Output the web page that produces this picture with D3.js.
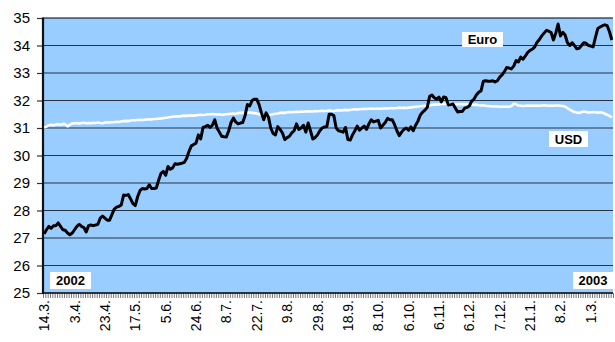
<!DOCTYPE html>
<html><head><meta charset="utf-8">
<script src="https://cdn.jsdelivr.net/npm/d3@7"></script>
<style>body{margin:0;background:#fff}svg{display:block}</style>
</head><body><svg id="c" width="615" height="342"></svg>
<script>
const tickLabels = ["14.3.","3.4.","23.4.","17.5.","5.6.","24.6.","8.7.","22.7.","9.8.","29.8.","18.9.","8.10.","6.10.","6.11.","6.12.","7.12.","21.1.","8.2.","1.3."];
const labelStep = 13;
const yTicks = [25,26,27,28,29,30,31,32,33,34,35];
const euro = [
27.15,27.3,27.42,27.35,27.45,27.45,27.55,27.42,27.3,27.28,
27.18,27.12,27.18,27.3,27.42,27.5,27.42,27.38,27.22,27.45,
27.47,27.45,27.47,27.5,27.72,27.8,27.72,27.65,27.65,27.85,
28.05,28.12,28.15,28.2,28.56,28.55,28.58,28.42,28.25,28.18,
28.5,28.72,28.8,28.78,28.8,28.93,28.8,28.8,28.82,29.1,
29.35,29.42,29.28,29.6,29.5,29.55,29.7,29.68,29.7,29.72,
29.75,29.9,30.15,30.35,30.4,30.45,30.75,30.6,31.02,31.05,
31.1,31.02,31.1,31.3,31.0,30.85,30.7,30.68,30.67,30.9,
31.2,31.36,31.22,31.15,31.18,31.2,31.45,31.85,31.8,32.0,
32.05,32.05,31.85,31.55,31.3,31.55,31.4,31.0,30.8,30.75,
31.05,30.95,30.82,30.58,30.65,30.7,30.82,30.9,31.15,30.95,
31.0,31.1,30.85,31.18,30.9,30.6,30.65,30.75,30.9,31.0,
31.04,31.05,31.5,31.5,31.45,31.0,30.9,30.88,30.85,31.02,
30.58,30.56,30.75,30.9,31.07,30.92,31.0,31.07,30.95,31.15,
31.3,31.22,31.25,31.28,31.0,31.1,31.2,31.35,31.3,31.3,
31.12,30.9,30.72,30.85,30.95,31.0,30.92,31.04,30.9,31.1,
31.25,31.47,31.58,31.65,31.75,32.15,32.2,32.1,32.05,32.12,
31.95,32.13,32.1,31.84,31.85,31.87,31.73,31.58,31.6,31.6,
31.72,31.75,31.8,31.98,32.05,32.2,32.3,32.35,32.7,32.72,
32.7,32.7,32.72,32.67,32.72,32.85,32.93,33.05,33.2,33.18,
33.15,33.25,33.45,33.4,33.58,33.5,33.62,33.75,33.82,33.87,
33.95,34.12,34.22,34.35,34.45,34.55,34.52,34.47,34.2,34.45,
34.78,34.35,34.48,34.38,34.1,34.0,34.1,34.0,33.88,33.9,
34.0,34.1,34.08,34.0,33.98,33.95,34.3,34.62,34.67,34.72,
34.75,34.72,34.5,34.2];
const usd = [
31.02,31.05,31.1,31.12,31.1,31.13,31.14,31.12,31.15,31.14,
31.06,31.12,31.17,31.17,31.18,31.16,31.18,31.19,31.17,31.18,
31.17,31.19,31.18,31.2,31.18,31.17,31.2,31.21,31.2,31.22,
31.21,31.23,31.22,31.24,31.25,31.26,31.25,31.27,31.28,31.28,
31.29,31.3,31.29,31.3,31.31,31.32,31.31,31.33,31.33,31.34,
31.35,31.36,31.37,31.38,31.4,31.41,31.42,31.43,31.42,31.44,
31.45,31.44,31.45,31.46,31.45,31.46,31.47,31.48,31.47,31.48,
31.5,31.5,31.51,31.5,31.49,31.5,31.48,31.49,31.5,31.51,
31.52,31.53,31.52,31.54,31.55,31.56,31.55,31.57,31.56,31.55,
31.54,31.53,31.5,31.47,31.45,31.42,31.44,31.48,31.5,31.52,
31.53,31.55,31.56,31.55,31.57,31.58,31.57,31.58,31.59,31.58,
31.6,31.59,31.6,31.61,31.6,31.6,31.62,31.61,31.62,31.63,
31.62,31.63,31.64,31.63,31.62,31.64,31.65,31.64,31.65,31.66,
31.65,31.66,31.67,31.68,31.67,31.68,31.69,31.7,31.69,31.7,
31.71,31.7,31.7,31.71,31.7,31.71,31.72,31.71,31.72,31.73,
31.72,31.73,31.74,31.73,31.74,31.73,31.74,31.75,31.76,31.77,
31.78,31.79,31.8,31.81,31.82,31.83,31.84,31.85,31.86,31.86,
31.87,31.88,31.87,31.88,31.87,31.86,31.87,31.86,31.87,31.86,
31.87,31.86,31.85,31.86,31.84,31.85,31.83,31.82,31.83,31.81,
31.8,31.79,31.78,31.79,31.78,31.77,31.78,31.77,31.78,31.77,
31.8,31.88,31.86,31.82,31.81,31.8,31.81,31.82,31.81,31.82,
31.81,31.82,31.81,31.82,31.83,31.82,31.81,31.82,31.81,31.82,
31.82,31.81,31.8,31.78,31.72,31.67,31.62,31.58,31.56,31.55,
31.57,31.6,31.58,31.56,31.57,31.58,31.57,31.56,31.57,31.56,
31.52,31.48,31.44,31.38];
const seriesNames = ["Euro","USD"];
const yearLabels = ["2002","2003"];

const L=43,R=613,T=18,B=293;
const N = euro.length;
const svg = d3.select("#c");
const font = "'Liberation Sans', Arial, sans-serif";
const x = d3.scaleBand().domain(d3.range(N)).range([L,R]).paddingInner(0).paddingOuter(0);
const xEdge = d3.scaleLinear().domain([0,N]).range([L,R]);
const y = d3.scaleLinear().domain([25,35]).range([B,T]);
const cx = i => x(i)+x.bandwidth()/2;

svg.append("rect").attr("x",L).attr("y",T).attr("width",R-L).attr("height",B-T).attr("fill","#99ccff");

// gridlines
svg.append("g").selectAll("line").data(yTicks.slice(1)).join("line")
  .attr("x1",L).attr("x2",R).attr("y1",d=>y(d)).attr("y2",d=>y(d))
  .attr("stroke",d=>d===35?"#000":"#2a3440").attr("stroke-width",1.2);

// y axis
const ya = svg.append("g").attr("transform",`translate(${L},0)`)
  .call(d3.axisLeft(y).tickValues(yTicks).tickSize(6).tickPadding(7).tickFormat(d3.format("d")));
ya.select(".domain").remove();
ya.selectAll("line").attr("stroke","#333").attr("stroke-width",1.2);
ya.selectAll("text").attr("font-family",font).attr("font-size",15).attr("fill","#000");

// minor ticks x
const xm = svg.append("g").attr("transform",`translate(0,${B})`)
  .call(d3.axisBottom(xEdge).tickValues(d3.range(N+1)).tickSize(5).tickFormat(""));
xm.select(".domain").remove();
xm.selectAll("line").attr("stroke","#555").attr("stroke-width",0.8);

// x labels
const xl = svg.append("g").attr("transform",`translate(0,${B})`)
  .call(d3.axisBottom(x).tickValues(tickLabels.map((_,k)=>k*labelStep)).tickSize(0).tickFormat(d=>tickLabels[d/labelStep]));
xl.select(".domain").remove();
xl.selectAll("text").attr("font-family",font).attr("font-size",14).attr("fill","#000")
  .attr("text-anchor","end").attr("transform","rotate(-90)")
  .attr("x",-7).attr("y",0).attr("dy","0.36em");

// axes lines
svg.append("line").attr("x1",L).attr("x2",R).attr("y1",B).attr("y2",B).attr("stroke","#000").attr("stroke-width",1.5);
svg.append("line").attr("x1",L).attr("x2",L).attr("y1",T-0.5).attr("y2",B+1).attr("stroke","#111").attr("stroke-width",2.2);

const line = d3.line().x((d,i)=>cx(i)).y(d=>y(d));
svg.append("path").datum(usd).attr("d",line).attr("fill","none").attr("stroke","#fff").attr("stroke-width",2.6).attr("stroke-linejoin","round");
svg.append("path").datum(euro).attr("d",line).attr("fill","none").attr("stroke","#000").attr("stroke-width",3).attr("stroke-linejoin","round");

function box(txt,x0,y0,w,h){
  svg.append("rect").attr("x",x0).attr("y",y0).attr("width",w).attr("height",h).attr("fill","#fff");
  svg.append("text").attr("x",x0+w/2).attr("y",y0+h/2).attr("dy","0.36em").attr("text-anchor","middle")
    .attr("font-family",font).attr("font-weight","bold").attr("font-size",13).attr("fill","#000").text(txt);
}
box(seriesNames[0],462,32,41,15);
box(seriesNames[1],549,131,39,16);
box(yearLabels[0],50,272,41,17);
box(yearLabels[1],573,272,40,17);
</script></body></html>
